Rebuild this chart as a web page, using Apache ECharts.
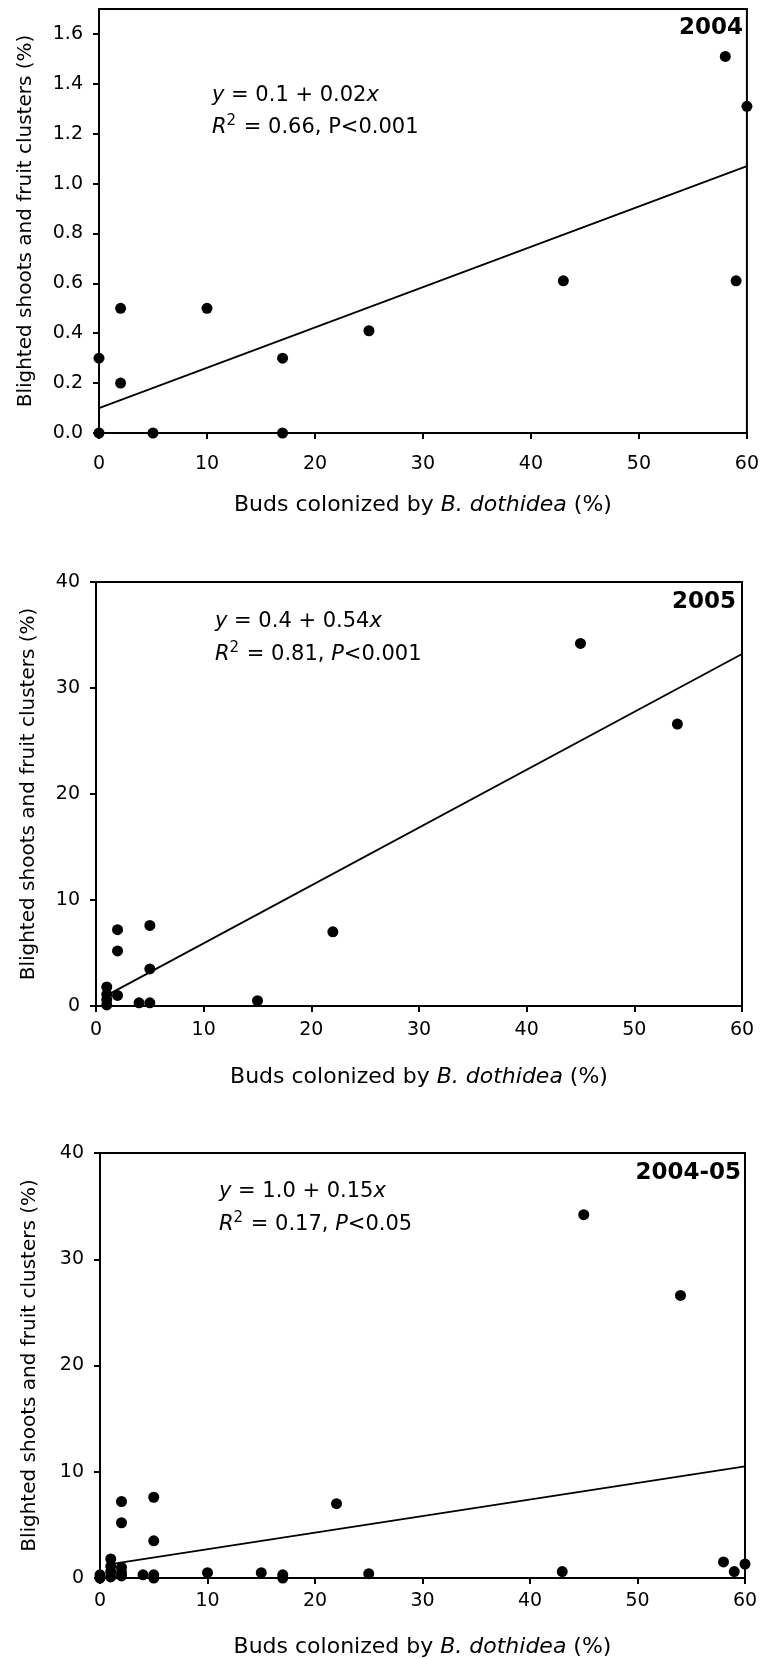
<!DOCTYPE html>
<html><head><meta charset="utf-8">
<script src="https://cdn.jsdelivr.net/npm/echarts@6/dist/echarts.min.js"></script>
<style>html,body{margin:0;padding:0;background:#fff}#c{width:762px;height:1659px}</style>
</head><body><div id="c"></div>
<script>
// ---- data ----
const x2004 = [0, 0, 2, 2, 5, 10, 17, 17, 25, 43, 58, 59, 60];
const y2004 = [0.3, 0, 0.5, 0.2, 0, 0.5, 0.3, 0, 0.41, 0.61, 1.51, 0.61, 1.31];
const x2005 = [1, 1, 1, 1, 2, 2, 2, 4, 5, 5, 5, 15, 22, 45, 54];
const y2005 = [1.8, 1.1, 0.6, 0.1, 7.2, 5.2, 1.0, 0.3, 7.6, 3.5, 0.3, 0.5, 7.0, 34.2, 26.6];
const fit2004X = [0, 60];   const fit2004Y = [0.1, 1.07];
const fit2005X = [1, 60];   const fit2005Y = [1.0, 33.2];
const fitAllX = [1, 60];    const fitAllY = [1.3, 10.5];
const panelLabels = ['2004', '2005', '2004-05'];
const eqLine1 = ['{i|y} = 0.1 + 0.02{i|x}', '{i|y} = 0.4 + 0.54{i|x}', '{i|y} = 1.0 + 0.15{i|x}'];
const eqLine2 = ['{i|R}{s|2}{n| = 0.66, P<0.001}', '{i|R}{s|2}{n| = 0.81, }{i|P}{n|<0.001}', '{i|R}{s|2}{n| = 0.17, }{i|P}{n|<0.05}'];
const xTitle = 'Buds colonized by {i|B. dothidea} (%)';
const yTitle = 'Blighted shoots and fruit clusters (%)';

const xAll = x2004.concat(x2005);
const yAll = y2004.concat(y2005);
const pts = (xs, ys) => xs.map((v, i) => [v, ys[i]]);

const F = 'DejaVu Sans';
const grids = [
  {left: 99, top: 9, width: 648, height: 424},
  {left: 96, top: 582, width: 646, height: 424},
  {left: 100, top: 1153, width: 645, height: 426}
];
const xLabelMargin = [22, 15, 14];
const xNameGap = [61, 60, 58];
const yNameGap = [63, 57, 60];
const yCfg = [{max: 1.7, interval: 0.2, dec: 1}, {max: 40, interval: 10, dec: 0}, {max: 40, interval: 10, dec: 0}];

const axisLine = {show: true, onZero: false, lineStyle: {color: '#000', width: 2}};
const axisTick = {show: true, inside: false, length: 6, lineStyle: {color: '#000', width: 2}};
const dotStyle = {color: '#000', opacity: 1};

const option = {
  animation: false,
  backgroundColor: '#fff',
  grid: grids.map(g => Object.assign({show: true, borderColor: '#000', borderWidth: 2, backgroundColor: 'transparent'}, g)),
  xAxis: grids.map((g, i) => ({
    gridIndex: i, type: 'value', min: 0, max: 60, interval: 10,
    axisLine, axisTick, splitLine: {show: false},
    axisLabel: {color: '#000', fontSize: 19, fontFamily: F, margin: xLabelMargin[i]},
    name: xTitle, nameLocation: 'middle', nameGap: xNameGap[i],
    nameTextStyle: {color: '#000', fontSize: 22, fontFamily: F,
      rich: {i: {fontStyle: 'italic', fontSize: 22, fontFamily: F, color: '#000'}}}
  })),
  yAxis: grids.map((g, i) => ({
    gridIndex: i, type: 'value', min: 0, max: yCfg[i].max, interval: yCfg[i].interval,
    axisLine, axisTick, splitLine: {show: false},
    axisLabel: {color: '#000', fontSize: 19, fontFamily: F, margin: 16, showMaxLabel: i === 0 ? false : true,
      formatter: v => v.toFixed(yCfg[i].dec)},
    name: yTitle, nameLocation: 'middle', nameGap: yNameGap[i], nameRotate: 90,
    nameTextStyle: {color: '#000', fontSize: 20, fontFamily: F}
  })),
  series: [
    {type: 'scatter', xAxisIndex: 0, yAxisIndex: 0, data: pts(x2004, y2004), symbolSize: 11, clip: false, itemStyle: dotStyle, z: 3},
    {type: 'line', xAxisIndex: 0, yAxisIndex: 0, data: pts(fit2004X, fit2004Y), showSymbol: false, lineStyle: {color: '#000', width: 1.8}},
    {type: 'scatter', xAxisIndex: 1, yAxisIndex: 1, data: pts(x2005, y2005), symbolSize: 11, clip: false, itemStyle: dotStyle, z: 3},
    {type: 'line', xAxisIndex: 1, yAxisIndex: 1, data: pts(fit2005X, fit2005Y), showSymbol: false, lineStyle: {color: '#000', width: 1.8}},
    {type: 'scatter', xAxisIndex: 2, yAxisIndex: 2, data: pts(xAll, yAll), symbolSize: 11, clip: false, itemStyle: dotStyle, z: 3},
    {type: 'line', xAxisIndex: 2, yAxisIndex: 2, data: pts(fitAllX, fitAllY), showSymbol: false, lineStyle: {color: '#000', width: 1.8}}
  ],
  graphic: []
};

const labelPos = [[743, 28], [736, 602], [741, 1173]];
const eqPos = [[212, 96, 126], [215, 622, 653], [219, 1192, 1223]];
const rich = {
  i: {fontStyle: 'italic', fontSize: 21, fontFamily: F, color: '#000', verticalAlign: 'bottom'},
  n: {fontSize: 21, fontFamily: F, color: '#000', verticalAlign: 'bottom'},
  s: {fontSize: 15, fontFamily: F, color: '#000', verticalAlign: 'bottom', padding: [0, 1, 9, 0]}
};
for (let i = 0; i < 3; i++) {
  option.graphic.push({type: 'text', x: labelPos[i][0], y: labelPos[i][1], z: 10,
    style: {text: panelLabels[i], fontSize: 23, fontWeight: 'bold', fontFamily: F, fill: '#000', textAlign: 'right', textVerticalAlign: 'middle'}});
  option.graphic.push({type: 'text', x: eqPos[i][0], y: eqPos[i][1], z: 10,
    style: {text: eqLine1[i], fontSize: 21, fontFamily: F, fill: '#000', textAlign: 'left', textVerticalAlign: 'middle', rich}});
  option.graphic.push({type: 'text', x: eqPos[i][0], y: eqPos[i][2], z: 10,
    style: {text: eqLine2[i], fontSize: 21, fontFamily: F, fill: '#000', textAlign: 'left', textVerticalAlign: 'middle', rich}});
}

const chart = echarts.init(document.getElementById('c'), null, {renderer: 'canvas'});
chart.setOption(option);
</script>
</body></html>
